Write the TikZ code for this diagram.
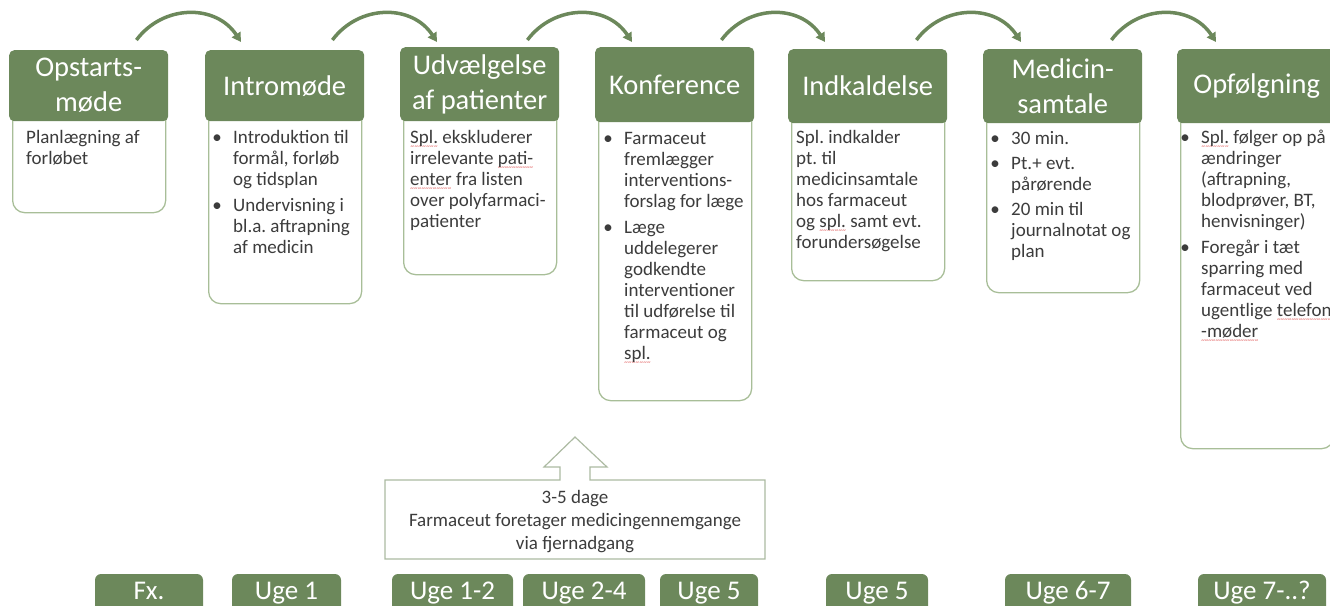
\documentclass[tikz,border=0pt]{standalone}
\usepackage{fontspec}
\setmainfont{Carlito}
\usetikzlibrary{arrows.meta}
\definecolor{hgreen}{RGB}{108,136,91}
\definecolor{bline}{RGB}{168,190,152}
\definecolor{cline}{RGB}{172,186,162}
\definecolor{btext}{RGB}{60,60,60}
\definecolor{spred}{RGB}{220,60,60}
\newcommand\spwave[1]{\setbox0\hbox{#1}\rlap{\raisebox{-5.2pt}{\textcolor{spred}{\hbox to \wd0{\xleaders\hbox{\fontsize{7}{7}\selectfont\char`~}\hfil}}}}\box0\relax}
\newcommand\bul{\makebox[16pt][l]{\makebox[0pt]{•}}}
\newcommand\ind{\hspace*{16pt}}
\frenchspacing
\begin{document}
\frenchspacing
\begin{tikzpicture}[x=1pt,y=-1pt,
  head/.style={fill=hgreen, rounded corners=5pt, text=white, align=center,
    font=\fontsize{28.5}{35}\selectfont, inner sep=0pt, minimum width=159pt, anchor=north west},
  body/.style={draw=bline, line width=1.3pt, fill=white, rounded corners=12pt,
    minimum width=153pt, inner sep=0pt, anchor=north west},
  btxt/.style={anchor=base west, inner sep=0pt, text=btext, font=\fontsize{19}{21}\selectfont},
  arr/.style={draw=hgreen, line width=3.5pt, -{Triangle[length=9pt,width=10pt]}},
  lab/.style={fill=hgreen, rounded corners=6pt, text=white, font=\fontsize{27}{32}\selectfont,
    minimum height=38pt, text height=18pt, text depth=6pt, inner sep=0pt},
  callout/.style={draw=cline, line width=1.2pt, fill=white}
]
\useasboundingbox (0,0) rectangle (1330,605);

% body boxes (behind headers)
\node[body, minimum height=127pt] (b1) at (12,85) {};
\node[body, minimum height=218pt] (b2) at (208,85) {};
\node[body, minimum height=190pt] (b3) at (403,84) {};
\node[body, minimum height=316pt] (b4) at (598,84) {};
\node[body, minimum height=194pt] (b5) at (791,86) {};
\node[body, minimum height=206pt] (b6) at (986,86) {};
\node[body, minimum height=362pt] (b7) at (1180,86) {};

% headers
\node[head, minimum height=71pt] (h1) at (9,50) {Opstarts-\\møde};
\node[head, minimum height=71pt] (h2) at (205,50) {Intromøde};
\node[head, minimum height=74pt] (h3) at (400,47) {Udvælgelse\\af patienter};
\node[head, minimum height=75pt] (h4) at (595,47) {Konference};
\node[head, minimum height=74pt] (h5) at (788,49) {Indkaldelse};
\node[head, minimum height=74pt] (h6) at (983,49) {Medicin-\\samtale};
\node[head, minimum height=74pt] (h7) at (1177,49) {Opfølgning};

% body texts
\node[btxt] (t1) at (26,143) {\begin{tabular}[t]{@{}l@{}}Planlægning af\\forløbet\end{tabular}};
\node[btxt] (t2) at (217,143) {\begin{tabular}[t]{@{}l@{}}\bul Introduktion til\\\ind formål, forløb\\\ind og tidsplan\\[5pt]\bul Undervisning i\\\ind bl.a. aftrapning\\\ind af medicin\end{tabular}};
\node[btxt] (t3) at (410,143) {\begin{tabular}[t]{@{}l@{}}\spwave{Spl.} ekskluderer\\irrelevante \spwave{pati-}\\\spwave{enter} fra listen\\over polyfarmaci-\\patienter\end{tabular}};
\node[btxt] (t4) at (608,144) {\begin{tabular}[t]{@{}l@{}}\bul Farmaceut\\\ind fremlægger\\\ind interventions-\\\ind forslag for læge\\[5pt]\bul Læge\\\ind uddelegerer\\\ind godkendte\\\ind interventioner\\\ind til udførelse til\\\ind farmaceut og\\\ind \spwave{spl.}\end{tabular}};
\node[btxt] (t5) at (796,143) {\begin{tabular}[t]{@{}l@{}}Spl. indkalder\\pt. til\\medicinsamtale\\hos farmaceut\\og \spwave{spl.} samt evt.\\forundersøgelse\end{tabular}};
\node[btxt] (t6) at (995,144) {\begin{tabular}[t]{@{}l@{}}\bul 30 min.\\[4pt]\bul Pt.+ evt.\\\ind pårørende\\[4pt]\bul 20 min til\\\ind journalnotat og\\\ind plan\end{tabular}};
\node[btxt] (t7) at (1185,143) {\begin{tabular}[t]{@{}l@{}}\bul \spwave{Spl.} følger op på\\\ind ændringer\\\ind (aftrapning,\\\ind blodprøver, BT,\\\ind henvisninger)\\[5pt]\bul Foregår i tæt\\\ind sparring med\\\ind farmaceut ved\\\ind ugentlige \spwave{telefon}\\\ind \spwave{-møder}\end{tabular}};

% curved arrows
\draw[arr] ([xshift=-32pt,yshift=10pt]h1.north east) .. controls +(27pt,36pt) and +(-25pt,38pt) .. ([xshift=36pt,yshift=8pt]h2.north west);
\draw[arr] ([xshift=-32pt,yshift=10pt]h2.north east) .. controls +(27pt,36pt) and +(-25pt,38pt) .. ([xshift=37pt,yshift=5pt]h3.north west);
\draw[arr] ([xshift=-32pt,yshift=7pt]h3.north east) .. controls +(27pt,36pt) and +(-25pt,38pt) .. ([xshift=37pt,yshift=5pt]h4.north west);
\draw[arr] ([xshift=-33pt,yshift=7pt]h4.north east) .. controls +(27pt,36pt) and +(-25pt,38pt) .. ([xshift=37pt,yshift=7pt]h5.north west);
\draw[arr] ([xshift=-31pt,yshift=9pt]h5.north east) .. controls +(27pt,36pt) and +(-25pt,38pt) .. ([xshift=38pt,yshift=7pt]h6.north west);
\draw[arr] ([xshift=-31pt,yshift=9pt]h6.north east) .. controls +(27pt,36pt) and +(-25pt,38pt) .. ([xshift=39pt,yshift=7pt]h7.north west);

% up-arrow callout
\draw[callout] (385,480) -- (560,480) -- (560,467) -- (544,467) -- (575,437) -- (607,467) -- (590,467) -- (590,480) -- (765,480) -- (765,559) -- (385,559) -- cycle;
\node[anchor=base, inner sep=0pt, text=btext, font=\fontsize{19}{23}\selectfont] (ct) at (575,503)
  {\begin{tabular}[t]{@{}c@{}}3-5 dage\\Farmaceut foretager medicingennemgange\\via fjernadgang\end{tabular}};

% week labels
\node[lab, minimum width=108pt] (w1) at (149,593) {Fx.};
\node[lab, minimum width=109pt] (w2) at (286.5,593) {Uge 1};
\node[lab, minimum width=121pt] (w3) at (452.5,593) {Uge 1-2};
\node[lab, minimum width=122pt] (w4) at (584,593) {Uge 2-4};
\node[lab, minimum width=98pt] (w5) at (709,593) {Uge 5};
\node[lab, minimum width=102pt] (w6) at (877,593) {Uge 5};
\node[lab, minimum width=126pt] (w7) at (1068,593) {Uge 6-7};
\node[lab, minimum width=128pt] (w8) at (1262,593) {Uge 7-..?};
\end{tikzpicture}
\end{document}
